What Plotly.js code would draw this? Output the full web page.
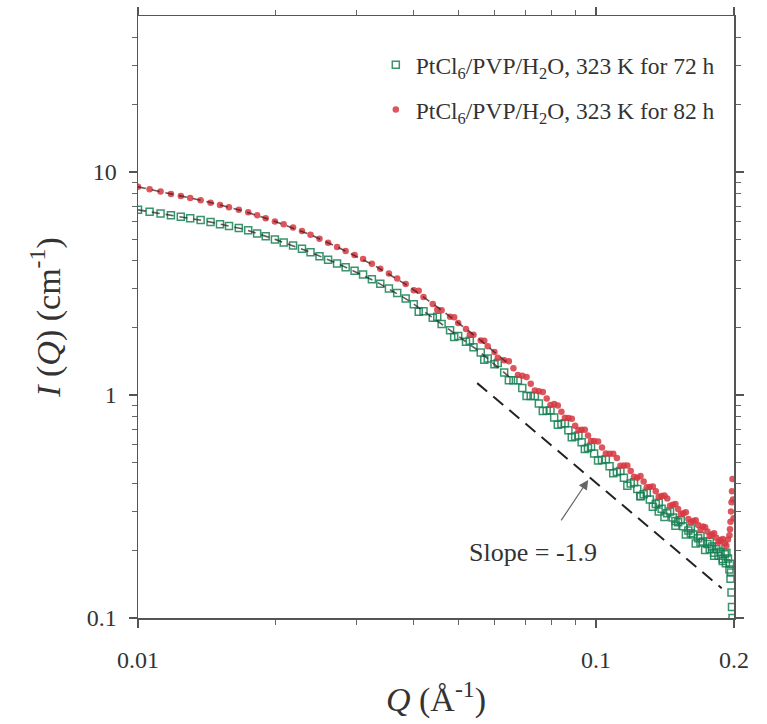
<!DOCTYPE html>
<html>
<head>
<meta charset="utf-8">
<script src="https://cdn.plot.ly/plotly-3.0.1.min.js"></script>
<style>
  html, body { margin: 0; padding: 0; background: #fff; }
  #chart { width: 767px; height: 724px; }
</style>
</head>
<body>
<div id="chart"></div>
<script>
// Q grid shared by both measured series (Å^-1)
const qMain = [0.0100,0.0106,0.0112,0.0118,0.0124,0.0130,0.0137,0.0144,0.0151,0.0158,0.0166,0.0174,0.0182,0.0190,0.0199,
  0.0208,0.0218,0.0228,0.0238,0.0249,0.0260,0.0272,0.0284,0.0297,0.0310,0.0324,0.0338,0.0353,0.0368,0.0384,0.0400,
  0.042,0.044,0.046,0.048,0.050,0.052,0.054,0.056,0.058,0.060,
  0.063,0.066,0.069,0.072,0.075,0.078,0.081,0.084,0.087,0.090,0.093,0.096,0.099,
  0.103,0.107,0.111,0.115,0.119,0.123,0.127,0.131,0.135,0.139,0.143,0.147,0.151,0.155,0.159,0.163,0.167,0.171,0.175,0.179,0.183,0.187,0.191,0.194];
// in-between Q points of the dense high-Q part
const qExtra = [0.041,0.045,0.049,0.053,0.057,0.061,0.0645,0.0675,0.0705,0.0735,0.0765,0.0795,0.0825,0.0855,0.0885,0.0915,0.0945,0.0975,
  0.101,0.105,0.109,0.113,0.117,0.121,0.125,0.129,0.133,0.137,0.141,0.145,0.149,0.153,0.157,0.161,0.165,0.169,0.173,0.177,0.181,0.185,0.189,0.1925];

// 82 h sample, I(Q) in cm^-1
const i82 = [8.57,8.36,8.16,7.97,7.80,7.64,7.47,7.28,7.10,6.94,6.77,6.60,6.39,6.20,6.00,
  5.82,5.63,5.44,5.23,5.01,4.81,4.61,4.42,4.24,4.07,3.87,3.68,3.50,3.33,3.14,2.95,
  2.75,2.56,2.40,2.24,2.10,1.975,1.86,1.756,1.652,1.557,
  1.431,1.319,1.219,1.124,1.039,0.964,0.910,0.841,0.789,0.728,0.698,0.658,0.622,
  0.581,0.545,0.522,0.483,0.456,0.425,0.409,0.387,0.370,0.352,0.343,0.322,0.308,0.295,0.278,0.272,0.261,0.257,0.244,0.237,0.229,0.223,0.216,0.225];
const i82Extra = [2.93,2.41,2.23,1.86,1.75,1.47,1.415,1.23,1.205,1.048,1.03,0.902,0.896,0.790,0.783,0.697,0.698,0.621,
  0.619,0.546,0.545,0.482,0.483,0.430,0.433,0.386,0.389,0.350,0.354,0.319,0.324,0.292,0.298,0.269,0.274,0.248,0.255,0.233,0.240,0.219,0.226,0.211];
// 82 h points in the last bins (upturn near 0.2)
const q82Tail = [0.1955,0.1960,0.1965,0.1970,0.1975,0.1980,0.1985,0.1990,0.1995];
const i82Tail = [0.235,0.250,0.270,0.300,0.330,0.370,0.420,0.340,0.280];

// 72 h sample, I(Q) in cm^-1
const i72 = [6.76,6.63,6.51,6.40,6.30,6.20,6.09,5.96,5.83,5.72,5.60,5.47,5.30,5.15,4.98,
  4.83,4.68,4.52,4.36,4.19,4.04,3.88,3.74,3.60,3.47,3.30,3.15,3.00,2.865,2.705,2.55,
  2.375,2.22,2.08,1.952,1.837,1.733,1.638,1.550,1.458,1.374,
  1.262,1.163,1.074,0.990,0.915,0.850,0.792,0.741,0.694,0.652,0.614,0.579,0.547,
  0.511,0.479,0.451,0.425,0.401,0.379,0.359,0.340,0.324,0.309,0.295,0.282,0.269,0.258,0.247,0.237,0.228,0.220,0.2145,0.209,0.2035,0.198,0.193,0.185];
const i72Extra = [2.36,2.24,1.82,1.75,1.44,1.39,1.163,1.163,0.990,0.990,0.847,0.854,0.735,0.746,0.646,0.658,0.572,0.586,
  0.508,0.515,0.446,0.456,0.392,0.406,0.351,0.364,0.315,0.329,0.284,0.300,0.259,0.274,0.237,0.252,0.216,0.233,0.202,0.220,0.190,0.209,0.180,0.196];
// 72 h scattered points at high Q
const q72Tail = [0.125,0.137,0.149,0.161,0.169,0.177,0.181,0.185,0.189,0.192,0.1955,0.1960,0.1965,0.1970,0.1975,0.1980,0.1985,0.1990,0.1995];
const i72Tail = [0.352,0.300,0.272,0.240,0.218,0.204,0.196,0.190,0.184,0.176,0.165,0.175,0.150,0.160,0.130,0.112,0.100,0.092,0.085];

// dashed model curves through the low-Q data
const qFit = [0.010,0.012,0.014,0.017,0.020,0.024,0.028,0.033,0.039,0.046,0.055,0.065];
const fit82 = [8.57,7.92,7.39,6.68,5.98,5.19,4.48,3.78,3.07,2.40,1.81,1.355];
const fit72 = [6.76,6.36,6.03,5.54,4.97,4.33,3.79,3.23,2.65,2.08,1.594,1.194];

// power-law guide line
const qSlope = [0.055,0.188];
const iSlope = [1.13,0.136];

// axis ticks
const xTicks = [0.01, 0.1, 0.2];
const xTickText = ['0.01', '0.1', '0.2'];
const xMinor = [0.02,0.03,0.04,0.05,0.06,0.07,0.08,0.09];
const yTicks = [0.1, 1, 10];
const yTickText = ['0.1', '1', '10'];
const yMinor = [0.2,0.3,0.4,0.5,0.6,0.7,0.8,0.9,2,3,4,5,6,7,8,9,20,30,40];

const name72 = 'PtCl<sub>6</sub>/PVP/H<sub>2</sub>O, 323 K for 72 h';
const name82 = 'PtCl<sub>6</sub>/PVP/H<sub>2</sub>O, 323 K for 82 h';
const slopeLabel = 'Slope = -1.9';

const serif = '"Liberation Serif", "Times New Roman", serif';
const green = 'rgba(22,128,82,0.85)';
const red = 'rgba(215,55,65,0.85)';

const traces = [
  {
    x: qMain.concat(qExtra, q72Tail), y: i72.concat(i72Extra, i72Tail),
    type: 'scatter', mode: 'markers', name: name72, legendgroup: 'a',
    marker: { symbol: 'square-open', size: 7, color: green, line: { width: 1.5, color: green } }
  },
  {
    x: qMain.concat(qExtra, q82Tail), y: i82.concat(i82Extra, i82Tail),
    type: 'scatter', mode: 'markers', name: name82, legendgroup: 'b',
    marker: { symbol: 'circle', size: 6.5, color: red }
  },
  {
    x: qFit, y: fit72, type: 'scatter', mode: 'lines', showlegend: false, hoverinfo: 'skip',
    line: { color: 'rgba(40,40,40,0.75)', width: 1.6, dash: '8px,6px' }
  },
  {
    x: qFit, y: fit82, type: 'scatter', mode: 'lines', showlegend: false, hoverinfo: 'skip',
    line: { color: 'rgba(60,30,30,0.75)', width: 1.6, dash: '8px,6px' }
  },
  {
    x: qSlope, y: iSlope, type: 'scatter', mode: 'lines', showlegend: false, hoverinfo: 'skip',
    line: { color: '#222', width: 2, dash: '13px,8px' }
  }
];

const axisCommon = {
  type: 'log',
  showline: true, linecolor: '#555', linewidth: 1.5,
  mirror: 'allticks',
  ticks: 'outside', ticklen: 8, tickwidth: 1.3, tickcolor: '#555',
  showgrid: false, zeroline: false,
  tickfont: { family: serif, size: 24, color: '#333' }
};

const layout = {
  width: 767, height: 724,
  margin: { l: 138, r: 33, t: 16, b: 106 },
  paper_bgcolor: '#fff', plot_bgcolor: '#fff',
  showlegend: true,
  legend: {
    x: 0.399, y: 0.955, xanchor: 'left', yanchor: 'top',
    bgcolor: 'rgba(0,0,0,0)', borderwidth: 0,
    font: { family: serif, size: 23.5, color: '#333' },
    tracegroupgap: 11, traceorder: 'grouped', itemwidth: 30
  },
  xaxis: Object.assign({}, axisCommon, {
    range: [-2, Math.log10(0.2)],
    tickmode: 'array', tickvals: xTicks, ticktext: xTickText,
    ticklabelstandoff: 12,
    minor: { tickmode: 'array', tickvals: xMinor, ticks: 'outside', ticklen: 5, tickwidth: 1, tickcolor: '#666', showgrid: false },
    title: { text: '<i>Q</i> (Å<sup>-1</sup>)', font: { family: serif, size: 34, color: '#333' }, standoff: 15 }
  }),
  yaxis: Object.assign({}, axisCommon, {
    range: [-1, Math.log10(50)],
    tickmode: 'array', tickvals: yTicks, ticktext: yTickText,
    ticklabelstandoff: 7,
    minor: { tickmode: 'array', tickvals: yMinor, ticks: 'outside', ticklen: 5, tickwidth: 1, tickcolor: '#666', showgrid: false },
    title: { text: '<i>I</i> (<i>Q</i>) (cm<sup>-1</sup>)', font: { family: serif, size: 34, color: '#333' }, standoff: 16 }
  }),
  annotations: [
    {
      x: Math.log10(0.0729), y: Math.log10(0.196), xref: 'x', yref: 'y',
      text: slopeLabel, showarrow: false,
      font: { family: serif, size: 26, color: '#333' }
    },
    {
      x: Math.log10(0.0961), y: Math.log10(0.416), xref: 'x', yref: 'y',
      ax: -28, ay: 42, text: '', showarrow: true,
      arrowhead: 2, arrowsize: 1.6, arrowwidth: 1.2, arrowcolor: '#666'
    }
  ]
};

Plotly.newPlot('chart', traces, layout, { displayModeBar: false, staticPlot: true });
</script>
</body>
</html>
